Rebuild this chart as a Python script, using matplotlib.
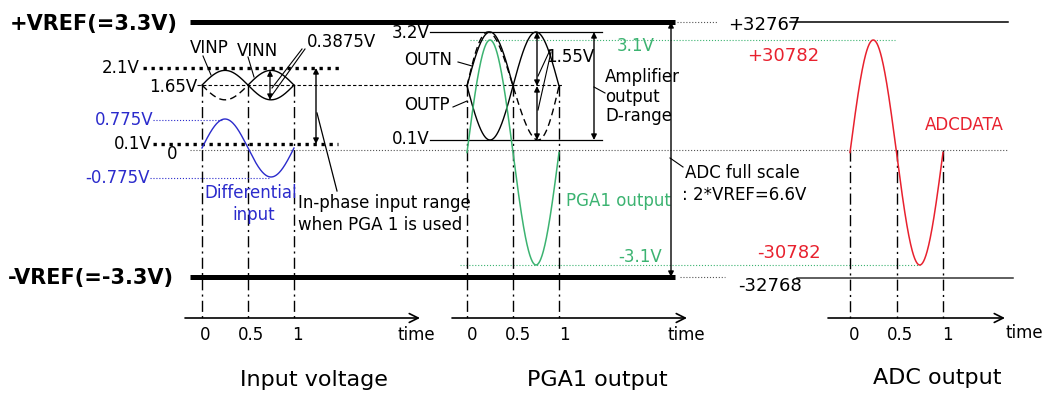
import numpy as np
import matplotlib.pyplot as plt

# one period of the test signal
time_ticks = [0, 0.5, 1]
time_labels = ['0', '0.5', '1']

# input stage (V)
vin_cm = 1.65
vin_amp = 0.3875
inphase_range = [2.1, 0.1]
diff_amp = 0.775

# PGA1 stage (V)
out_range = [3.2, 0.1]
out_amp = 1.55
pga_amp = 3.1
vref = 3.3

# ADC codes
adc_peak = 30782
adc_limits = [32767, -32768]

GREEN = '#3cb371'
RED = '#e8212e'
BLUE = '#2b2bcc'


def lin(v, v1, p1, v2, p2):
    return p1 + (np.asarray(v) - v1) * (p2 - p1) / (v2 - v1)


# pixel anchors of the schematic (it is not drawn to one scale)
def in_y(v):
    return lin(v, inphase_range[0], 68, inphase_range[1], 144)

def diff_y(v):
    return lin(v, diff_amp, 120, -diff_amp, 178)

def out_y(v):
    return lin(v, out_range[0], 32, out_range[1], 140)

def pga_y(v):
    return lin(v, pga_amp, 40, -pga_amp, 265)

def ref_y(v):
    return lin(v, vref, 22, -vref, 277)

def in_x(t):
    return 202 + np.asarray(t) * 92

def pga_x(t):
    return 467 + np.asarray(t) * 92

def adc_x(t):
    return 850 + np.asarray(t) * 93


fig = plt.figure(figsize=(10.48, 3.94), dpi=100)
ax = fig.add_axes([0, 0, 1, 1])
ax.set_xlim(0, 1048)
ax.set_ylim(394, 0)
ax.axis('off')

t = np.linspace(0, 1, 300)
s = np.sin(2 * np.pi * t)
half1 = t <= 0.5
half2 = t >= 0.5

dashdot = (0, (8, 3, 1.5, 3))
fs = 12


def darrow(x, y1, y2, lw=1.0):
    ax.annotate('', xy=(x, y2), xytext=(x, y1),
                arrowprops=dict(arrowstyle='<|-|>', color='k', lw=lw,
                                mutation_scale=8, shrinkA=0, shrinkB=0))


def hline(y, x1, x2, **kw):
    ax.plot([x1, x2], [y, y], **kw)


# VREF rails
y_top, y_bot = ref_y(vref), ref_y(-vref)
hline(y_top, 190, 675, color='k', lw=3.6, solid_capstyle='butt')
hline(y_bot, 190, 675, color='k', lw=3.6, solid_capstyle='butt')
ax.text(10, y_top + 2, '+VREF(=3.3V)', fontsize=15, fontweight='bold', va='center')
ax.text(8, y_bot + 1, '-VREF(=-3.3V)', fontsize=15, fontweight='bold', va='center')

# common guide lines
hline(150, 190, 1008, color='#555555', lw=0.8, ls=':')
hline(in_y(vin_cm), 197, 563, color='k', lw=0.8, ls=(0, (3, 2)))

# ---------------- input voltage ----------------
thick_dot = dict(color='k', lw=2.4, ls=(0, (1, 1.4)), solid_capstyle='butt')
hline(in_y(inphase_range[0]), 143, 340, **thick_dot)
hline(in_y(inphase_range[1]), 153, 338, **thick_dot)
ax.text(140, in_y(inphase_range[0]), '2.1V', fontsize=fs, ha='right', va='center')
ax.text(197, in_y(vin_cm) + 2, '1.65V', fontsize=fs, ha='right', va='center')
ax.text(152, in_y(inphase_range[1]), '0.1V', fontsize=fs, ha='right', va='center')
ax.text(172, 154, '0', fontsize=fs, ha='center', va='center')

for tt in time_ticks:
    ax.plot([in_x(tt)] * 2, [in_y(vin_cm), 318], color='k', lw=1, ls=dashdot)

ax.plot(in_x(t), in_y(vin_cm + vin_amp * s), color='k', lw=1)
ax.plot(in_x(t[half1]), in_y(vin_cm - vin_amp * s[half1]), color='k', lw=1, ls=(0, (5, 3)))
ax.plot(in_x(t[half2]), in_y(vin_cm - vin_amp * s[half2]), color='k', lw=1)
darrow(270, in_y(vin_cm + vin_amp), in_y(vin_cm - vin_amp), lw=0.9)
ax.text(190, 48, 'VINP', fontsize=fs, va='center')
ax.text(237, 51, 'VINN', fontsize=fs, va='center')
ax.plot([203, 211], [56, 75], color='k', lw=0.8)
ax.plot([248, 254], [57, 77], color='k', lw=0.8)
ax.text(307, 42, '0.3875V', fontsize=fs, va='center')
ax.plot([305, 270], [49, 98], color='k', lw=0.8)
ax.plot([302, 272], [49, 88], color='k', lw=0.8)

# differential input
ax.plot(in_x(t), diff_y(diff_amp * s) - 1, color=BLUE, lw=1)
hline(diff_y(diff_amp), 153, 223, color=BLUE, lw=0.8, ls=':')
hline(diff_y(-diff_amp), 150, 270, color=BLUE, lw=0.8, ls=':')
ax.text(153, diff_y(diff_amp), '0.775V', fontsize=fs, ha='right', va='center', color=BLUE)
ax.text(150, diff_y(-diff_amp), '-0.775V', fontsize=fs, ha='right', va='center', color=BLUE)
ax.text(251, 193, 'Differential', fontsize=fs, ha='center', va='center', color=BLUE)
ax.text(254, 215, 'input', fontsize=fs, ha='center', va='center', color=BLUE)

darrow(316, in_y(inphase_range[0]), in_y(inphase_range[1]))
ax.plot([337, 317], [191, 113], color='k', lw=0.9)
ax.text(298, 203, 'In-phase input range', fontsize=fs, va='center')
ax.text(298, 225, 'when PGA 1 is used', fontsize=fs, va='center')

# ---------------- PGA1 output ----------------
hline(out_y(out_range[0]), 430, 602, color='k', lw=0.9)
hline(out_y(out_range[1]), 430, 602, color='k', lw=0.9)
ax.text(430, out_y(out_range[0]) + 1, '3.2V', fontsize=fs, ha='right', va='center')
ax.text(430, out_y(out_range[1]) - 1, '0.1V', fontsize=fs, ha='right', va='center')

hline(pga_y(pga_amp), 470, 895, color=GREEN, lw=0.8, ls=':')
hline(pga_y(-pga_amp), 460, 920, color=GREEN, lw=0.8, ls=':')

for tt in time_ticks:
    ax.plot([pga_x(tt)] * 2, [in_y(vin_cm), 318], color='k', lw=1, ls=dashdot)

ax.plot(pga_x(t), out_y(vin_cm - out_amp * s), color='k', lw=1)
ax.plot(pga_x(t[half1]), out_y(vin_cm + out_amp * s[half1]), color='k', lw=1)
ax.plot(pga_x(t) - 2 * s, out_y(vin_cm + out_amp * s), color='k', lw=1, ls=(0, (5, 3)))
ax.plot(pga_x(t), pga_y(pga_amp * s), color=GREEN, lw=1.1)

ax.text(404, 60, 'OUTN', fontsize=fs, va='center')
ax.text(404, 105, 'OUTP', fontsize=fs, va='center')
ax.plot([458, 472], [62, 66], color='k', lw=0.8)
ax.plot([453, 467], [107, 101], color='k', lw=0.8)

darrow(537, out_y(out_range[0]), out_y(vin_cm))
darrow(537, out_y(vin_cm), out_y(out_range[1]))
ax.text(546, 57, '1.55V', fontsize=fs, va='center')
ax.plot([550, 538], [50, 76], color='k', lw=0.8)
ax.plot([551, 538], [52, 110], color='k', lw=0.8)

darrow(594, out_y(out_range[0]), out_y(out_range[1]))
ax.plot([594, 605], [87, 93], color='k', lw=0.8)
ax.text(605, 77, 'Amplifier', fontsize=fs, va='center')
ax.text(605, 97, 'output', fontsize=fs, va='center')
ax.text(605, 116, 'D-range', fontsize=fs, va='center')

ax.text(617, pga_y(pga_amp) + 6, '3.1V', fontsize=fs, va='center', color=GREEN)
ax.text(662, pga_y(-pga_amp) - 8, '-3.1V', fontsize=fs, ha='right', va='center', color=GREEN)
ax.text(566, 201, 'PGA1 output', fontsize=fs, va='center', color=GREEN)

darrow(671, y_top, y_bot)
ax.plot([670, 683], [158, 167], color='k', lw=0.8)
ax.text(685, 173, 'ADC full scale', fontsize=fs, va='center')
ax.text(682, 195, ': 2*VREF=6.6V', fontsize=fs, va='center')

# ---------------- ADC output ----------------
hline(y_top, 677, 717, color='#555555', lw=0.8, ls=':')
hline(y_bot, 680, 725, color='#555555', lw=0.8, ls=':')
hline(y_top, 790, 1008, color='k', lw=1.1)
hline(y_bot + 1, 797, 1013, color='#333333', lw=1.1)
ax.text(728, y_top + 3, f'+{adc_limits[0]}', fontsize=fs + 1, va='center')
ax.text(738, y_bot + 9, f'{adc_limits[1]}', fontsize=fs + 1, va='center')
ax.text(747, 56, f'+{adc_peak}', fontsize=fs + 1, va='center', color=RED)
ax.text(757, 253, f'-{adc_peak}', fontsize=fs + 1, va='center', color=RED)
ax.text(925, 125, 'ADCDATA', fontsize=fs, va='center', color=RED)

for tt in time_ticks:
    ax.plot([adc_x(tt)] * 2, [150, 318], color='k', lw=1, ls=dashdot)
ax.plot(adc_x(t), pga_y(pga_amp * (adc_peak / adc_peak) * s), color=RED, lw=1.1)

# time axes
for x1, x2, xfun, dx in [(185, 420, in_x, 3), (452, 687, pga_x, 5), (828, 1005, adc_x, 4)]:
    ax.annotate('', xy=(x2, 318), xytext=(x1, 318),
                arrowprops=dict(arrowstyle='->', color='k', lw=1.2,
                                mutation_scale=16, shrinkA=0, shrinkB=0))
    for tt, lab in zip(time_ticks, time_labels):
        ax.text(xfun(tt) + dx, 335, lab, fontsize=fs, ha='center', va='center')
ax.text(398, 335, 'time', fontsize=fs, va='center')
ax.text(667, 335, 'time', fontsize=fs, va='center')
ax.text(1005, 333, 'time', fontsize=fs, va='center')

ax.text(314, 380, 'Input voltage', fontsize=16, ha='center', va='center')
ax.text(597, 380, 'PGA1 output', fontsize=16, ha='center', va='center')
ax.text(937, 378, 'ADC output', fontsize=16, ha='center', va='center')

fig.savefig('out.png', dpi=100)
